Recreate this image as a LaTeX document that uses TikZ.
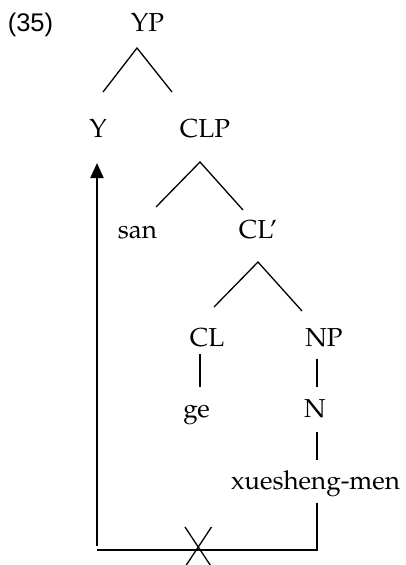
\documentclass[tikz,border=0pt]{standalone}
\usepackage{fontspec}
\setmainfont{TeX Gyre Pagella}
\newfontfamily\numfont{Liberation Sans}
\usetikzlibrary{arrows.meta}
\begin{document}
\begin{tikzpicture}[x=1pt,y=-1pt,
  lab/.style={anchor=base,inner sep=0pt,font=\fontsize{26}{30}\selectfont},
  br/.style={line width=1.3pt},
  mv/.style={line width=2.1pt}]
\useasboundingbox (0,0) rectangle (406,565);
\node[lab,font=\fontsize{25.5}{30}\numfont] (num) at (30.5,31) {(35)};
\node[lab] (YP) at (147.5,31) {YP};
\node[lab] (Y) at (98,137) {Y};
\node[lab] (CLP) at (205,137) {CLP};
\node[lab] (san) at (137.5,238) {san};
\node[lab] (CLb) at (258,238) {CL’};
\node[lab] (CL) at (207,346) {CL};
\node[lab] (NP) at (324,346) {NP};
\node[lab] (ge) at (196.5,417) {ge};
\node[lab] (N) at (315,417) {N};
\node[lab] (xm) at (315.5,489) {xuesheng-men};
% branch points
\coordinate (ypA) at (137,48);
\coordinate (ypL) at (103,92);
\coordinate (ypR) at (172,92);
\coordinate (clpA) at (200,162);
\coordinate (clpL) at (156,207);
\coordinate (clpR) at (243,210);
\coordinate (clbA) at (258,262);
\coordinate (clbL) at (214,307);
\coordinate (clbR) at (302,311);
\draw[br] (ypL) -- (ypA) -- (ypR);
\draw[br] (clpL) -- (clpA) -- (clpR);
\draw[br] (clbL) -- (clbA) -- (clbR);
\draw[br] (200,354) -- (200,387);
\draw[br] (317,359) -- (317,387);
\draw[br] (317,432) -- (317,460);
% movement path
\coordinate (m1) at (317,503);
\coordinate (m2) at (317,550);
\coordinate (m3) at (97,550);
\coordinate (m4) at (97,546);
\coordinate (tip) at (97,163);
\draw[mv] (m1) -- (m2) -- (m3);
\draw[mv,-{Triangle[width=13pt,length=15pt]}] (m4) -- (tip);
% cross
\draw[br] (185,527) -- (211.5,567);
\draw[br] (211.5,527) -- (185,567);
\end{tikzpicture}
\end{document}
